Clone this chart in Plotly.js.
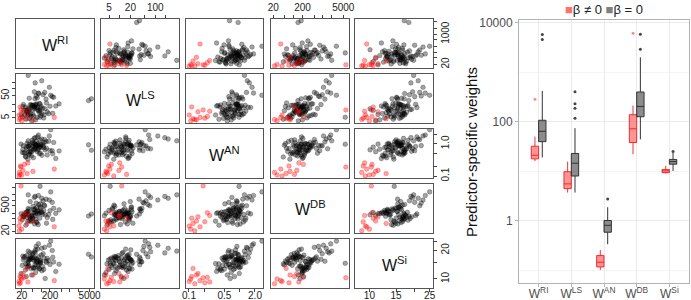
<!DOCTYPE html>
<html><head><meta charset="utf-8">
<script src="https://cdn.plot.ly/plotly-3.0.1.min.js"></script>
<style>html,body{margin:0;padding:0;background:#fff}#chart{width:691px;height:300px}</style>
</head><body><div id="chart"></div>
<script>
// Variables (predictor-specific weights)
const varKeys = ['RI','LS','AN','DB','Si'];
const varLabels = ['W<sup>RI</sup>','W<sup>LS</sup>','W<sup>AN</sup>','W<sup>DB</sup>','W<sup>Si</sup>'];

// group beta = 0 (black / grey)
const RI_b = [45,28,120,33,62,21,85,38,19,70, 52,160,35,24,95,43,31,250,58,26, 77,41,110,30,66,49,180,22,88,39, 55,135,47,29,73,320,61,36,98,44, 68,27,150,52,34,84,57,200,40,104, 63,34,89,420,48,75,125,59,23,92, 71,240,50,115,37,80,145,65,270,56, 34,102,60,190,89,4600,5800,212,78,130];
const LS_b = [3.7,4.4,5.0,6.8,4.1,5.6,8.6,4.8,7.2,5.3, 6.1,9.4,7.6,11.2,6.4,5.9,9.9,8.1,12.8,7.0, 10.5,7.7,13.6,9.1,14.3,11.7,7.8,16.2,10.2,12.3, 15.0,13.0,18.4,11.0,14.7,17.2,20.5,12.0,16.7,19.2, 21.0,15.5,23.5,18.0,13.8,22.2,16.4,16.8,19.8,7.9, 18.6,9.8,21.6,21.5,17.8,11.5,6.9,36.5,20.0,13.2, 40,45,7.3,55,38,62,35,48,42,74, 404,231,186,118,5.4,30,36,52,65,70];
const AN_b = [0.57,0.39,0.76,0.334,0.68,0.54,0.80,0.48,0.98,0.58, 0.64,0.45,0.82,0.53,0.77,0.71,1.04,0.49,0.99,0.52, 0.90,0.56,0.96,0.69,1.18,0.81,1.21,0.67,1.32,0.59, 1.47,0.65,1.28,0.79,1.64,0.35,0.83,0.46,0.94,0.42, 0.91,0.41,0.73,0.37,0.84,0.50,1.02,0.62,0.89,0.44, 0.92,0.55,0.85,0.60,1.08,0.66,1.12,0.74,0.87,0.51, 1.0,0.61,1.06,0.86,0.95,0.72,1.15,0.88,1.10,0.70, 1.24,1.41,1.55,1.75,0.97,0.93,0.63,2.74,1.87,1.36];
const DB_b = [144,44,285,74,199,88,201,78,188,62, 330,116,156,132,388,70,244,92,295,160, 48,100,176,120,66,104,168,148,108,128, 206,164,83,218,184,196,152,172,224,136, 410,192,57,212,358,237,52,275,860,230, 96,251,440,306,112,266,550,344,124,650, 258,780,470,950,318,600,1170,710,372,1450, 2000,1300,1650,1050,5830,140,180,2900,1850,510];
const Si_b = [11.0,14.4,12.6,14.5,11.7,13.9,12.9,15.8,11.4,16.2, 13.2,16.5,13.6,16.75,14.8,16.6,13.4,16.9,13.1,17.2, 14.0,17.05,13.5,17.6,14.7,18.6,15.6,17.4,15.0,19.0, 16.8,10.1,18.0,10.6,20.6,12.0,20.2,13.8,17.8,12.8, 15.5,12.4,14.9,13.0,16.0,12.7,15.45,14.2,16.1,12.2, 16.4,15.3,15.7,14.3,16.7,13.3,16.55,14.1,15.9,15.4, 15.2,19.9,16.05,18.4,16.3,17.1,15.35,22.0,15.1,19.3, 19.6,21.0,18.8,22.6,14.6,18.2,17.0,25.0,23.4,21.5];

// group beta != 0 (red)
const RI_r = [16,16.5,17.5,18,283,20,22,25,31,19,33,50];
const LS_r = [6.8,4.3,15.6,4.9,5.3,3.7,9.5,5.8,4.6,11.4,10.0,4.1];
const AN_r = [0.101,0.13,0.113,0.205,0.165,0.108,0.15,0.23,0.12,0.19,0.256,0.14];
const DB_r = [40,22,106,69,36,27,128,213,55,6100,150,75];
const Si_r = [9.4,8.9,10.6,9.1,9.6,10.0,11.4,10.4,12.9,10.3,9.3,11.0];

// tick values / labels of the pairs axes (labelled ticks and unlabelled ticks)
const xLabRI = [20,200,5000],   xTxtRI = ['20','200','5000'],  xMinRI = [50,100,500,1000,2000];
const xLabLS = [5,20,100],      xTxtLS = ['5','20','100'],     xMinLS = [10,50,200];
const xLabAN = [0.1,0.5,2],     xTxtAN = ['0.1','0.5','2.0'],  xMinAN = [0.2,1];
const xLabDB = [20,200,5000],   xTxtDB = ['20','200','5000'],  xMinDB = [50,100,500,1000,2000];
const xLabSi = [10,15,25],      xTxtSi = ['10','15','25'],     xMinSi = [20];
const yLabRI = [20,1000],       yTxtRI = ['20','1000'],        yMinRI = [50,100,200,500,2000,5000];
const yLabLS = [5,50],          yTxtLS = ['5','50'],           yMinLS = [10,20,100,200];
const yLabAN = [0.1,1],         yTxtAN = ['0.1','1.0'],        yMinAN = [0.2,0.5,2];
const yLabDB = [20,500],        yTxtDB = ['20','500'],         yMinDB = [50,100,200,1000,2000,5000];
const yLabSi = [10,20],         yTxtSi = ['10','20'],          yMinSi = [15,25];

const black = [RI_b, LS_b, AN_b, DB_b, Si_b];
const red = [RI_r, LS_r, AN_r, DB_r, Si_r];
const xTicks = [[xLabRI,xTxtRI,xMinRI],[xLabLS,xTxtLS,xMinLS],[xLabAN,xTxtAN,xMinAN],[xLabDB,xTxtDB,xMinDB],[xLabSi,xTxtSi,xMinSi]];
const yTicks = [[yLabRI,yTxtRI,yMinRI],[yLabLS,yTxtLS,yMinLS],[yLabAN,yTxtAN,yMinAN],[yLabDB,yTxtDB,yMinDB],[yLabSi,yTxtSi,yMinSi]];

const W = 691, H = 300;
const logRanges = [[1.1,3.856],[0.474,2.668],[-1.059,0.459],[1.222,3.894],[0.905,1.42]];
const colPx = [[16,94],[101,179],[186,263],[271,349],[355,433]];
const rowPx = [[19,68],[74,123],[129,178],[184,233],[239,288]];

const FONT = 'Liberation Sans, Arial, sans-serif';
const traces = [];
const layout = {
  width: W, height: H, margin: {l:0,r:0,t:0,b:0,pad:0},
  paper_bgcolor: '#fff', plot_bgcolor: '#fff',
  font: {family: FONT, color: '#222', size: 10},
  showlegend: false, boxmode: 'group', boxgap: 0.55, boxgroupgap: 0,
  annotations: []
};

function tickSetup(spec, side, angle, standoff) {
  return {side: side, tickangle: angle, tickmode: 'array', tickvals: spec[0], ticktext: spec[1],
    ticks: 'outside', ticklen: 3, tickwidth: 1, tickcolor: '#444', ticklabelstandoff: standoff,
    showticklabels: true, tickfont: {size: 10, color: '#222', family: FONT},
    minor: {tickmode: 'array', tickvals: spec[2], ticks: 'outside', ticklen: 3, tickwidth: 1, tickcolor: '#444', showgrid: false}};
}

for (let i = 0; i < 5; i++) {
  for (let j = 0; j < 5; j++) {
    const n = i * 5 + j + 1;
    const sfx = n === 1 ? '' : String(n);
    const xa = {
      type: 'log', domain: [colPx[j][0]/W, colPx[j][1]/W], anchor: 'y' + sfx,
      range: logRanges[j], showgrid: false, zeroline: false, automargin: false,
      showline: true, mirror: true, linecolor: '#555', linewidth: 1,
      ticks: '', showticklabels: false, fixedrange: true
    };
    const ya = {
      type: 'log', domain: [1 - rowPx[i][1]/H, 1 - rowPx[i][0]/H], anchor: 'x' + sfx,
      range: logRanges[i], showgrid: false, zeroline: false, automargin: false,
      showline: true, mirror: true, linecolor: '#555', linewidth: 1,
      ticks: '', showticklabels: false, fixedrange: true
    };
    if (i === 0 && (j === 1 || j === 3)) Object.assign(xa, tickSetup(xTicks[j], 'top', 0, 0));
    if (i === 4 && (j === 0 || j === 2 || j === 4)) Object.assign(xa, tickSetup(xTicks[j], 'bottom', 0, -5));
    if (j === 0 && (i === 1 || i === 3)) Object.assign(ya, tickSetup(yTicks[i], 'left', -90, -1));
    if (j === 4 && (i === 0 || i === 2 || i === 4)) Object.assign(ya, tickSetup(yTicks[i], 'right', -90, 0));
    layout['xaxis' + sfx] = xa;
    layout['yaxis' + sfx] = ya;
    if (i === j) {
      // empty panel on the diagonal (no marks), holding the variable name
      traces.push({type: 'scatter', mode: 'markers', x: [], y: [], xaxis: 'x' + sfx, yaxis: 'y' + sfx, hoverinfo: 'skip'});
      layout.annotations.push({
        xref: 'paper', yref: 'paper', xanchor: 'center', yanchor: 'middle',
        x: (colPx[j][0] + colPx[j][1]) / 2 / W, y: 1 - (rowPx[i][0] + rowPx[i][1]) / 2 / H,
        text: varLabels[i], showarrow: false, font: {size: 16, color: '#111', family: FONT}
      });
    } else {
      traces.push({type: 'scatter', mode: 'markers', x: black[j], y: black[i],
        xaxis: 'x' + sfx, yaxis: 'y' + sfx, hoverinfo: 'skip',
        marker: {size: 4.6, color: 'rgba(0,0,0,0.36)', line: {width: 0.6, color: 'rgba(0,0,0,0.42)'}}});
      traces.push({type: 'scatter', mode: 'markers', x: red[j], y: red[i],
        xaxis: 'x' + sfx, yaxis: 'y' + sfx, hoverinfo: 'skip',
        marker: {size: 4.6, color: 'rgba(255,0,0,0.36)', line: {width: 0.6, color: 'rgba(255,0,0,0.42)'}}});
    }
  }
}

// Box plot (statistics on the log10 scale, as in the original)
function boxTrace(groupVals, name, fill, line, mk) {
  const x = [], y = [];
  groupVals.forEach((arr, k) => arr.forEach(v => { x.push(varKeys[k]); y.push(Math.log10(v)); }));
  return {type: 'box', x: x, y: y, name: name, xaxis: 'x26', yaxis: 'y26',
    fillcolor: fill, line: {color: line, width: 1}, marker: {color: mk, size: 3},
    boxpoints: 'outliers', whiskerwidth: 0, hoverinfo: 'skip'};
}
traces.push(boxTrace(red, 'β ≠ 0', 'rgba(255,60,60,0.55)', 'rgba(240,30,30,0.9)', 'rgba(255,60,60,0.6)'));
traces.push(boxTrace(black, 'β = 0', 'rgba(0,0,0,0.45)', '#333333', '#444444'));

layout.xaxis26 = {
  domain: [519/W, 689/W], anchor: 'y26', type: 'category', automargin: false,
  categoryorder: 'array', categoryarray: varKeys, range: [-0.6, 4.6],
  tickmode: 'array', tickvals: varKeys, ticktext: varLabels, ticklabelstandoff: -3,
  showgrid: true, gridcolor: '#ebebeb', gridwidth: 1, zeroline: false,
  ticks: 'outside', ticklen: 3, tickcolor: '#b3b3b3',
  showline: true, mirror: true, linecolor: '#b3b3b3', linewidth: 1,
  tickfont: {size: 12, color: '#4d4d4d', family: FONT}
};
layout.yaxis26 = {
  domain: [1 - 283/H, 1 - 20/H], anchor: 'x26', range: [-1.259, 4.055], automargin: false,
  tickmode: 'array', tickvals: [0, 2, 4], ticktext: ['1', '100', '10000'],
  minor: {tickmode: 'array', tickvals: [-1, 1, 3], showgrid: true, gridcolor: '#f4f4f4', ticks: ''},
  showgrid: true, gridcolor: '#ebebeb', zeroline: false,
  ticks: 'outside', ticklen: 3, tickcolor: '#b3b3b3',
  showline: true, mirror: true, linecolor: '#b3b3b3', linewidth: 1,
  tickfont: {size: 12, color: '#4d4d4d', family: FONT}
};

// y-axis title of the box plot
layout.annotations.push({
  xref: 'paper', yref: 'paper', x: 471/W, y: 1 - 152/H, xanchor: 'center', yanchor: 'middle', textangle: -90,
  showarrow: false, font: {size: 15, color: '#111', family: FONT},
  text: 'Predictor-specific weights'
});
// legend keys above the box plot
layout.annotations.push({
  xref: 'paper', yref: 'paper', x: 604/W, y: 1, xanchor: 'center', yanchor: 'top',
  showarrow: false, font: {size: 13, color: '#222', family: FONT},
  text: "<span style='color:#ff7070'>■</span>β ≠ 0 <span style='color:#808080'>■</span>β = 0"
});

Plotly.newPlot('chart', traces, layout, {staticPlot: true, displayModeBar: false});
</script></body></html>
